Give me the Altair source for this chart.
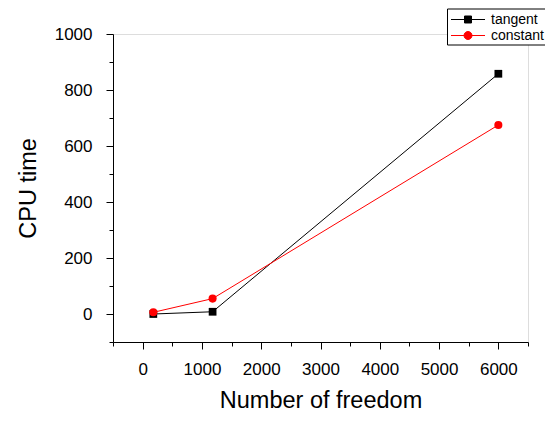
import altair as alt
import pandas as pd

series_names = ["tangent", "constant"]
series_colors = ["black", "red"]
dof = [180, 1180, 6000]
tangent_time = [0, 8, 858]
constant_time = [6, 55, 675]

x_major = [0, 1000, 2000, 3000, 4000, 5000, 6000]
x_minor = [-500, 500, 1500, 2500, 3500, 4500, 5500, 6500]
y_major = [0, 200, 400, 600, 800, 1000]
y_minor = [-100, 100, 300, 500, 700, 900]

df = pd.DataFrame({
    "dof": dof * 2,
    "time": tangent_time + constant_time,
    "series": ["tangent"] * 3 + ["constant"] * 3,
})

FONT = "Liberation Sans"
xscale = alt.Scale(domain=[-500, 6500], nice=False, zero=False)
yscale = alt.Scale(domain=[-100, 1000], nice=False, zero=False)

xaxis = alt.Axis(values=x_major, title="Number of freedom", orient="bottom",
                 grid=False, tickSize=7, tickColor="black", domainColor="black",
                 labelFontSize=17, labelFont=FONT, labelColor="black", labelPadding=12,
                 titleFont=FONT, titleFontSize=23.5, titleFontWeight="normal",
                 titleColor="black", titlePadding=11, format="d", labelFlush=False)
yaxis = alt.Axis(values=y_major, title="CPU time", orient="left",
                 grid=False, tickSize=7, tickColor="black", domainColor="black",
                 labelFontSize=17, labelFont=FONT, labelColor="black", labelPadding=14,
                 titleFont=FONT, titleFontSize=23.5, titleFontWeight="normal",
                 titleColor="black", titlePadding=14, format="d", labelFlush=False)

xminor = alt.Axis(values=x_minor, title=None, orient="bottom", grid=False,
                  labels=False, domain=False, tickSize=4, tickColor="black")
yminor = alt.Axis(values=y_minor, title=None, orient="left", grid=False,
                  labels=False, domain=False, tickSize=4, tickColor="black")

base = alt.Chart(df)

layers = []
shapes = {"tangent": "square", "constant": "circle"}
sizes = {"tangent": 60, "constant": 65}
for name, col in zip(series_names, series_colors):
    sub = base.transform_filter(alt.datum.series == name)
    layers.append(sub.mark_line(color=col, strokeWidth=1).encode(
        x=alt.X("dof:Q", scale=xscale, axis=xaxis),
        y=alt.Y("time:Q", scale=yscale, axis=yaxis),
    ))
    layers.append(sub.mark_point(color=col, filled=True, opacity=1,
                                 shape=shapes[name], size=sizes[name]).encode(
        x=alt.X("dof:Q", scale=xscale, axis=xaxis),
        y=alt.Y("time:Q", scale=yscale, axis=yaxis),
    ))

main = alt.layer(*layers)

legend_paths = [
    "M-2,0H2M-0.41,-0.41H0.41V0.41H-0.41Z",
    "M-2,0H2M0.47,0A0.47,0.47 0 1,1 -0.47,0A0.47,0.47 0 1,1 0.47,0Z",
]
leg_scale_c = alt.Scale(domain=series_names, range=series_colors)
leg_scale_s = alt.Scale(domain=series_names, range=legend_paths)
legend = alt.Legend(title=None, orient="none", legendX=334, legendY=-25.5,
                    strokeColor="black", padding=2, labelFont=FONT,
                    labelFontSize=14, labelColor="black", symbolSize=289,
                    symbolStrokeWidth=1, symbolOpacity=1, rowPadding=0,
                    symbolOffset=10, labelOffset=14, fillColor="white",
                    cornerRadius=0)

leg_layer = base.mark_point(filled=True, opacity=0).encode(
    x=alt.X("dof:Q", scale=xscale, axis=xminor),
    y=alt.Y("time:Q", scale=yscale, axis=yminor),
    fill=alt.Fill("series:N", scale=leg_scale_c, legend=legend, sort=series_names),
    stroke=alt.Stroke("series:N", scale=leg_scale_c, legend=legend, sort=series_names),
    shape=alt.Shape("series:N", scale=leg_scale_s, legend=legend, sort=series_names),
)

chart = alt.layer(main, leg_layer).resolve_axis(x="independent", y="independent").properties(
    width=415, height=308,
    autosize=alt.AutoSizeParams(type="none"),
    padding={"left": 105, "top": 26, "right": 17, "bottom": 71},
).configure_view(stroke=None).configure(background="white")

chart.save("out.html", embed_options={"renderer": "svg", "actions": False})
